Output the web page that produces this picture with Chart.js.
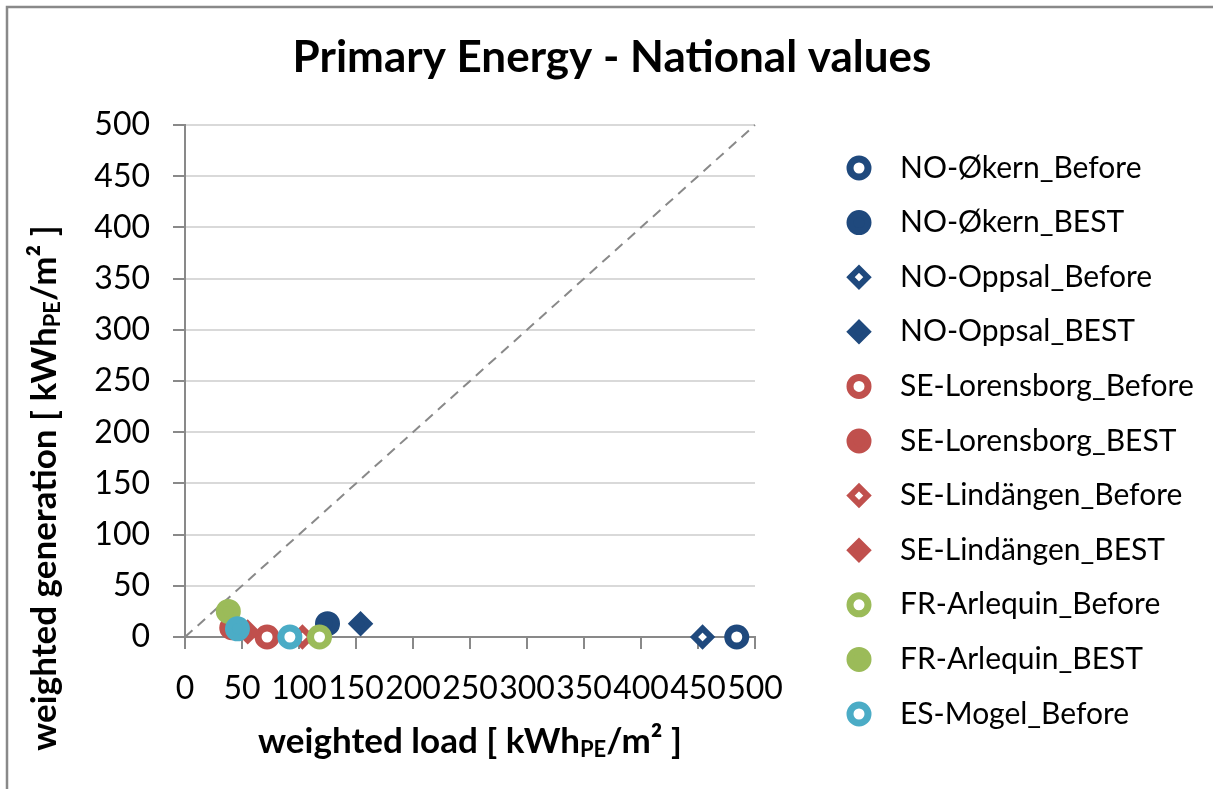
<!DOCTYPE html>
<html>
<head>
<meta charset="utf-8">
<title>Primary Energy - National values</title>
<script src="https://cdn.jsdelivr.net/npm/chart.js@4.4.0/dist/chart.umd.min.js"></script>
<style>
  html, body { margin: 0; padding: 0; background: #fff; }
  #wrap { width: 1213px; height: 789px; }
</style>
</head>
<body>
<div id="wrap"><canvas id="peChart" width="1213" height="789"></canvas></div>
<script>
// -----------------------------------------------------------------------------
// Data
// -----------------------------------------------------------------------------
const chartTitle = "Primary Energy - National values";
const seriesNames = [
  "NO-Økern_Before", "NO-Økern_BEST",
  "NO-Oppsal_Before", "NO-Oppsal_BEST",
  "SE-Lorensborg_Before", "SE-Lorensborg_BEST",
  "SE-Lindängen_Before", "SE-Lindängen_BEST",
  "FR-Arlequin_Before", "FR-Arlequin_BEST",
  "ES-Mogel_Before", "ES-Mogel_BEST",
];
const weightedLoad       = [484, 125, 454, 154, 72, 41, 103, 55, 118, 38, 92, 46];
const weightedGeneration = [0,   13,  0,   13,  0,  9,  0,   5,  0,   25, 0,  8];
const seriesColors = [
  "#1F497D", "#1F497D", "#1F497D", "#1F497D",
  "#C0504D", "#C0504D", "#C0504D", "#C0504D",
  "#9BBB59", "#9BBB59",
  "#4BACC6", "#4BACC6",
];
const seriesShapes = [
  "circle", "circle", "rectRot", "rectRot",
  "circle", "circle", "rectRot", "rectRot",
  "circle", "circle", "circle", "circle",
];
const seriesFilled = [false, true, false, true, false, true, false, true, false, true, false, true];
const legendCount = 11; // last series is cut off in the original legend

const diagonalLine = [{ x: 0, y: 0 }, { x: 500, y: 500 }];
const axisMin = 0, axisMax = 500, axisStep = 50;

// -----------------------------------------------------------------------------
// Styling
// -----------------------------------------------------------------------------
const FONT = "Lato, 'Open Sans', sans-serif";
const AXIS_GREY = "#898989";
const GRID_GREY = "#d9d9d9";

const markerStyle = i => seriesShapes[i] === "rectRot"
  ? { pointStyle: "rectRot", radius: 8.5, borderWidth: 6 }
  : { pointStyle: "circle", radius: 9, borderWidth: 7 };

const pointDatasets = seriesNames.map((name, i) => {
  const m = markerStyle(i);
  return {
    type: "scatter",
    label: name,
    data: [{ x: weightedLoad[i], y: weightedGeneration[i] }],
    pointStyle: m.pointStyle,
    pointRadius: m.radius,
    pointBorderWidth: m.borderWidth,
    pointBorderColor: seriesColors[i],
    pointBackgroundColor: seriesFilled[i] ? seriesColors[i] : "#ffffff",
    clip: false,
    order: seriesNames.length - i, // later series on top
  };
});

const diagonalDataset = {
  type: "line",
  label: "diagonal",
  data: diagonalLine,
  borderColor: AXIS_GREY,
  borderWidth: 2,
  borderDash: [10, 7],
  pointRadius: 0,
  clip: false,
  order: 100,
};

// -----------------------------------------------------------------------------
// Plugins: frame + title, axis titles with subscript, legend
// -----------------------------------------------------------------------------
function drawRich(ctx, parts, size) {
  // parts: [{t, sub}] drawn centred at 0,0
  const big = `bold ${size}px ${FONT}`;
  const small = `bold ${Math.round(size * 0.62)}px ${FONT}`;
  let total = 0;
  const widths = parts.map(p => {
    ctx.font = p.sub ? small : big;
    const w = ctx.measureText(p.t).width;
    total += w;
    return w;
  });
  let x = -total / 2;
  ctx.textBaseline = "middle";
  ctx.textAlign = "left";
  parts.forEach((p, i) => {
    ctx.font = p.sub ? small : big;
    ctx.fillText(p.t, x, p.sub ? size * 0.22 : 0);
    x += widths[i];
  });
}

const framePlugin = {
  id: "frame",
  beforeDraw(chart) {
    const ctx = chart.ctx;
    ctx.save();
    ctx.fillStyle = "#ffffff";
    ctx.fillRect(0, 0, chart.width, chart.height);
    ctx.strokeStyle = AXIS_GREY;
    ctx.lineWidth = 2.5;
    ctx.beginPath();
    ctx.moveTo(7, chart.height + 5);
    ctx.lineTo(7, 7);
    ctx.lineTo(chart.width + 5, 7);
    ctx.stroke();

    ctx.fillStyle = "#000";
    ctx.font = `bold 44px ${FONT}`;
    ctx.textAlign = "center";
    ctx.textBaseline = "middle";
    ctx.fillText(chartTitle, 612, 58);
    ctx.restore();
  },
};

const axisTitlePlugin = {
  id: "axisTitles",
  afterDraw(chart) {
    const ctx = chart.ctx;
    const unit = [{ t: " [ kWh" }, { t: "PE", sub: true }, { t: "/m² ]" }];
    ctx.save();
    ctx.fillStyle = "#000";
    ctx.translate(470, 742);
    drawRich(ctx, [{ t: "weighted load" }, ...unit], 35);
    ctx.restore();

    ctx.save();
    ctx.fillStyle = "#000";
    ctx.translate(45, 488);
    ctx.rotate(-Math.PI / 2);
    drawRich(ctx, [{ t: "weighted generation" }, ...unit], 35);
    ctx.restore();
  },
};

const legendPlugin = {
  id: "sideLegend",
  afterDraw(chart) {
    const ctx = chart.ctx;
    const h = Chart.helpers;
    ctx.save();
    for (let i = 0; i < legendCount; i++) {
      const y = 168 + i * 54.6;
      const m = markerStyle(i);
      ctx.fillStyle = seriesFilled[i] ? seriesColors[i] : "#ffffff";
      ctx.strokeStyle = seriesColors[i];
      ctx.lineWidth = m.borderWidth;
      h.drawPoint(ctx, { pointStyle: m.pointStyle, radius: m.radius, borderWidth: m.borderWidth, rotation: 0 }, 859, y);
      ctx.fillStyle = "#000";
      ctx.font = `30px ${FONT}`;
      ctx.textAlign = "left";
      ctx.textBaseline = "middle";
      ctx.fillText(seriesNames[i], 900, y);
    }
    ctx.restore();
  },
};

// -----------------------------------------------------------------------------
// Chart
// -----------------------------------------------------------------------------
new Chart(document.getElementById("peChart"), {
  type: "scatter",
  data: { datasets: [diagonalDataset, ...pointDatasets] },
  options: {
    responsive: false,
    animation: false,
    events: [],
    layout: { padding: { left: 0, top: 125, right: 458, bottom: 0 } },
    plugins: {
      legend: { display: false },
      tooltip: { enabled: false },
      title: { display: false },
    },
    scales: {
      x: {
        type: "linear",
        min: axisMin,
        max: axisMax,
        afterFit: s => { s.height = 152; },
        border: { color: AXIS_GREY, width: 2 },
        grid: { drawOnChartArea: false, color: AXIS_GREY, tickColor: AXIS_GREY, tickLength: 12, lineWidth: 2 },
        ticks: {
          stepSize: axisStep,
          autoSkip: false,
          maxRotation: 0,
          minRotation: 0,
          padding: 20,
          color: "#000",
          font: { family: FONT, size: 32 },
        },
      },
      y: {
        type: "linear",
        min: axisMin,
        max: axisMax,
        afterFit: s => { s.width = 185; },
        border: { color: AXIS_GREY, width: 2 },
        grid: { color: GRID_GREY, tickColor: AXIS_GREY, tickLength: 12, lineWidth: 2 },
        ticks: {
          stepSize: axisStep,
          padding: 23,
          color: "#000",
          font: { family: FONT, size: 32 },
        },
      },
    },
  },
  plugins: [framePlugin, axisTitlePlugin, legendPlugin],
});
</script>
</body>
</html>
